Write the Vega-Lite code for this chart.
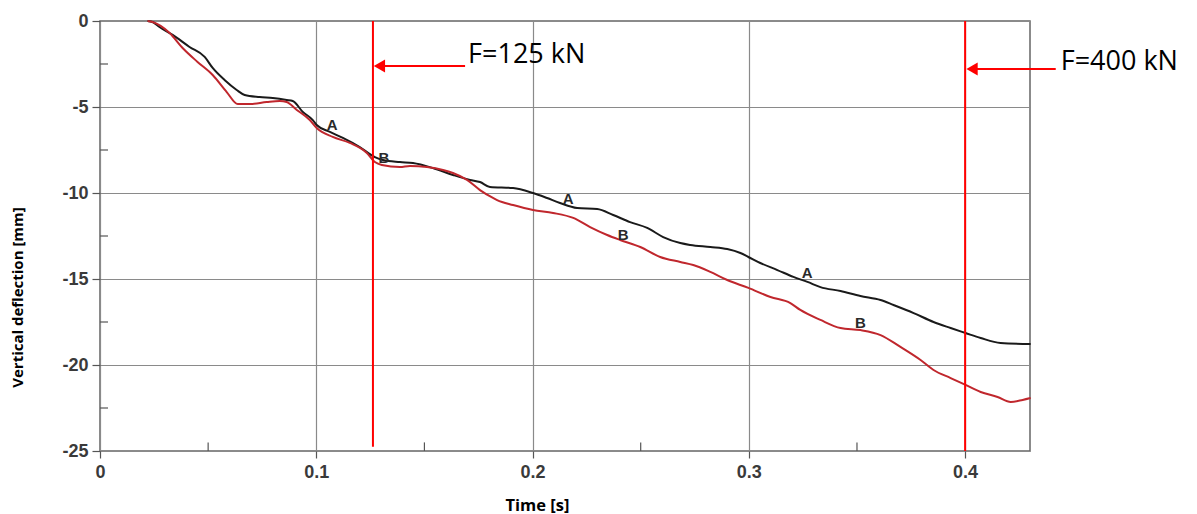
{
  "$schema": "https://vega.github.io/schema/vega-lite/v6.json",
  "width": 930,
  "height": 430,
  "autosize": {"type": "none"},
  "padding": {"left": 100, "top": 21, "right": 167, "bottom": 63},
  "background": "white",
  "config": {
    "view": {"stroke": "#666666", "strokeWidth": 1.5},
    "axis": {
      "domain": false,
      "grid": true,
      "gridColor": "#8a8a8a",
      "gridWidth": 1.2,
      "tickColor": "#555555",
      "tickWidth": 1.2,
      "labelFont": "Liberation Sans",
      "labelFontSize": 18,
      "labelFontWeight": "bold",
      "labelColor": "#3a3a3a",
      "titleFont": "Open Sans",
      "titleFontWeight": "bold",
      "titleColor": "#000000"
    }
  },
  "datasets": {
    "curves": [
      {"t": 0.0220, "d": 0, "s": "A"},
      {"t": 0.0243, "d": -0.06, "s": "A"},
      {"t": 0.0275, "d": -0.35, "s": "A"},
      {"t": 0.0336, "d": -0.81, "s": "A"},
      {"t": 0.0414, "d": -1.51, "s": "A"},
      {"t": 0.0484, "d": -2.09, "s": "A"},
      {"t": 0.0521, "d": -2.73, "s": "A"},
      {"t": 0.0576, "d": -3.43, "s": "A"},
      {"t": 0.0632, "d": -4.01, "s": "A"},
      {"t": 0.0669, "d": -4.30, "s": "A"},
      {"t": 0.0738, "d": -4.42, "s": "A"},
      {"t": 0.0799, "d": -4.48, "s": "A"},
      {"t": 0.0863, "d": -4.59, "s": "A"},
      {"t": 0.0891, "d": -4.65, "s": "A"},
      {"t": 0.0938, "d": -5.29, "s": "A"},
      {"t": 0.0984, "d": -5.76, "s": "A"},
      {"t": 0.1002, "d": -6.05, "s": "A"},
      {"t": 0.1063, "d": -6.45, "s": "A"},
      {"t": 0.1123, "d": -6.80, "s": "A"},
      {"t": 0.1201, "d": -7.33, "s": "A"},
      {"t": 0.1271, "d": -7.91, "s": "A"},
      {"t": 0.1308, "d": -8.08, "s": "A"},
      {"t": 0.1387, "d": -8.20, "s": "A"},
      {"t": 0.1447, "d": -8.26, "s": "A"},
      {"t": 0.1539, "d": -8.55, "s": "A"},
      {"t": 0.1632, "d": -8.95, "s": "A"},
      {"t": 0.1711, "d": -9.24, "s": "A"},
      {"t": 0.1757, "d": -9.36, "s": "A"},
      {"t": 0.1803, "d": -9.65, "s": "A"},
      {"t": 0.1910, "d": -9.71, "s": "A"},
      {"t": 0.2002, "d": -10.0, "s": "A"},
      {"t": 0.2067, "d": -10.29, "s": "A"},
      {"t": 0.2127, "d": -10.58, "s": "A"},
      {"t": 0.2206, "d": -10.87, "s": "A"},
      {"t": 0.2299, "d": -10.93, "s": "A"},
      {"t": 0.2373, "d": -11.28, "s": "A"},
      {"t": 0.2451, "d": -11.69, "s": "A"},
      {"t": 0.2530, "d": -12.03, "s": "A"},
      {"t": 0.2604, "d": -12.56, "s": "A"},
      {"t": 0.2683, "d": -12.91, "s": "A"},
      {"t": 0.2729, "d": -13.02, "s": "A"},
      {"t": 0.2822, "d": -13.14, "s": "A"},
      {"t": 0.2900, "d": -13.26, "s": "A"},
      {"t": 0.2961, "d": -13.49, "s": "A"},
      {"t": 0.2998, "d": -13.72, "s": "A"},
      {"t": 0.3053, "d": -14.07, "s": "A"},
      {"t": 0.3132, "d": -14.48, "s": "A"},
      {"t": 0.3206, "d": -14.88, "s": "A"},
      {"t": 0.3271, "d": -15.17, "s": "A"},
      {"t": 0.3331, "d": -15.47, "s": "A"},
      {"t": 0.3424, "d": -15.70, "s": "A"},
      {"t": 0.3516, "d": -15.99, "s": "A"},
      {"t": 0.3609, "d": -16.22, "s": "A"},
      {"t": 0.3669, "d": -16.51, "s": "A"},
      {"t": 0.3762, "d": -16.98, "s": "A"},
      {"t": 0.3854, "d": -17.50, "s": "A"},
      {"t": 0.3933, "d": -17.85, "s": "A"},
      {"t": 0.4002, "d": -18.14, "s": "A"},
      {"t": 0.4072, "d": -18.43, "s": "A"},
      {"t": 0.4164, "d": -18.72, "s": "A"},
      {"t": 0.4303, "d": -18.78, "s": "A"},
      {"t": 0.0220, "d": 0, "s": "B"},
      {"t": 0.0243, "d": -0.06, "s": "B"},
      {"t": 0.0322, "d": -0.70, "s": "B"},
      {"t": 0.0382, "d": -1.57, "s": "B"},
      {"t": 0.0451, "d": -2.38, "s": "B"},
      {"t": 0.0521, "d": -3.14, "s": "B"},
      {"t": 0.0586, "d": -4.13, "s": "B"},
      {"t": 0.0637, "d": -4.83, "s": "B"},
      {"t": 0.0692, "d": -4.83, "s": "B"},
      {"t": 0.0771, "d": -4.71, "s": "B"},
      {"t": 0.0831, "d": -4.65, "s": "B"},
      {"t": 0.0863, "d": -4.71, "s": "B"},
      {"t": 0.0910, "d": -5.17, "s": "B"},
      {"t": 0.0970, "d": -5.76, "s": "B"},
      {"t": 0.1002, "d": -6.22, "s": "B"},
      {"t": 0.1076, "d": -6.74, "s": "B"},
      {"t": 0.1155, "d": -7.09, "s": "B"},
      {"t": 0.1234, "d": -7.67, "s": "B"},
      {"t": 0.1271, "d": -8.20, "s": "B"},
      {"t": 0.1303, "d": -8.37, "s": "B"},
      {"t": 0.1387, "d": -8.49, "s": "B"},
      {"t": 0.1433, "d": -8.43, "s": "B"},
      {"t": 0.1512, "d": -8.49, "s": "B"},
      {"t": 0.1586, "d": -8.66, "s": "B"},
      {"t": 0.1632, "d": -8.84, "s": "B"},
      {"t": 0.1697, "d": -9.24, "s": "B"},
      {"t": 0.1757, "d": -9.83, "s": "B"},
      {"t": 0.1817, "d": -10.29, "s": "B"},
      {"t": 0.1836, "d": -10.41, "s": "B"},
      {"t": 0.1910, "d": -10.70, "s": "B"},
      {"t": 0.2002, "d": -10.99, "s": "B"},
      {"t": 0.2095, "d": -11.16, "s": "B"},
      {"t": 0.2188, "d": -11.45, "s": "B"},
      {"t": 0.2266, "d": -11.98, "s": "B"},
      {"t": 0.2345, "d": -12.44, "s": "B"},
      {"t": 0.2405, "d": -12.73, "s": "B"},
      {"t": 0.2498, "d": -13.14, "s": "B"},
      {"t": 0.2590, "d": -13.72, "s": "B"},
      {"t": 0.2683, "d": -14.01, "s": "B"},
      {"t": 0.2743, "d": -14.19, "s": "B"},
      {"t": 0.2822, "d": -14.59, "s": "B"},
      {"t": 0.2900, "d": -15.06, "s": "B"},
      {"t": 0.2998, "d": -15.52, "s": "B"},
      {"t": 0.3100, "d": -16.05, "s": "B"},
      {"t": 0.3192, "d": -16.40, "s": "B"},
      {"t": 0.3238, "d": -16.80, "s": "B"},
      {"t": 0.3331, "d": -17.38, "s": "B"},
      {"t": 0.3424, "d": -17.85, "s": "B"},
      {"t": 0.3516, "d": -17.97, "s": "B"},
      {"t": 0.3609, "d": -18.26, "s": "B"},
      {"t": 0.3701, "d": -18.95, "s": "B"},
      {"t": 0.3794, "d": -19.71, "s": "B"},
      {"t": 0.3854, "d": -20.29, "s": "B"},
      {"t": 0.3933, "d": -20.76, "s": "B"},
      {"t": 0.4002, "d": -21.16, "s": "B"},
      {"t": 0.4072, "d": -21.57, "s": "B"},
      {"t": 0.4150, "d": -21.86, "s": "B"},
      {"t": 0.4211, "d": -22.15, "s": "B"},
      {"t": 0.4266, "d": -22.03, "s": "B"},
      {"t": 0.4303, "d": -21.92, "s": "B"}
    ],
    "vlines": [
      {"t": 0.1262, "d": 0, "d2": -24.75},
      {"t": 0.4, "d": 0, "d2": -25}
    ],
    "arrows": [
      {"t": 0.1285, "t2": 0.1688, "d": -2.62, "lab": "F=125 kN", "tl": 0.1702, "dl": -1.98},
      {"t": 0.4025, "t2": 0.4419, "d": -2.79, "lab": "F=400 kN", "tl": 0.4442, "dl": -2.38}
    ],
    "heads": [
      {"t": 0.1292, "d": -2.62},
      {"t": 0.4032, "d": -2.79}
    ],
    "curveLabels": [
      {"t": 0.1073, "d": -6.05, "lab": "A"},
      {"t": 0.1313, "d": -7.97, "lab": "B"},
      {"t": 0.2165, "d": -10.35, "lab": "A"},
      {"t": 0.2419, "d": -12.44, "lab": "B"},
      {"t": 0.3270, "d": -14.65, "lab": "A"},
      {"t": 0.3516, "d": -17.56, "lab": "B"}
    ],
    "minorX": [
      {"t": 0.05, "d": -25, "d2": -24.5},
      {"t": 0.15, "d": -25, "d2": -24.5},
      {"t": 0.25, "d": -25, "d2": -24.5},
      {"t": 0.35, "d": -25, "d2": -24.5}
    ],
    "minorY": [
      {"t": 0, "t2": 0.0037, "d": -2.5},
      {"t": 0, "t2": 0.0037, "d": -7.5},
      {"t": 0, "t2": 0.0037, "d": -12.5},
      {"t": 0, "t2": 0.0037, "d": -17.5},
      {"t": 0, "t2": 0.0037, "d": -22.5}
    ]
  },
  "layer": [
    {
      "data": {"name": "minorX"},
      "mark": {"type": "rule", "color": "#555555", "strokeWidth": 1.2},
      "encoding": {
        "x": {
          "field": "t", "type": "quantitative",
          "scale": {"domain": [0, 0.43], "nice": false, "zero": false},
          "axis": {
            "values": [0, 0.1, 0.2, 0.3, 0.4],
            "labelExpr": "datum.value + ''",
            "labelFlush": false,
            "labelFontSize": 18,
            "tickSize": 7,
            "labelPadding": 5,
            "title": "Time [s]",
            "titleFontSize": 16.5,
            "titleX": 437,
            "titleY": 54,
            "titleBaseline": "middle"
          }
        },
        "y": {
          "field": "d", "type": "quantitative",
          "scale": {"domain": [-25, 0], "nice": false, "zero": false},
          "axis": {
            "values": [0, -5, -10, -15, -20, -25],
            "labelExpr": "datum.value + ''",
            "labelFontSize": 18,
            "tickSize": 8,
            "labelPadding": 4,
            "title": "Vertical deflection [mm]",
            "titleFontSize": 15,
            "titleX": -83,
            "titleY": 276,
            "titleBaseline": "middle"
          }
        },
        "y2": {"field": "d2"}
      }
    },
    {
      "data": {"name": "minorY"},
      "mark": {"type": "rule", "color": "#555555", "strokeWidth": 1.2},
      "encoding": {
        "x": {"field": "t", "type": "quantitative"},
        "x2": {"field": "t2"},
        "y": {"field": "d", "type": "quantitative"}
      }
    },
    {
      "data": {"name": "curves"},
      "mark": {"type": "line", "strokeWidth": 2, "interpolate": "monotone"},
      "encoding": {
        "x": {"field": "t", "type": "quantitative"},
        "y": {"field": "d", "type": "quantitative"},
        "color": {
          "field": "s", "type": "nominal",
          "scale": {"domain": ["A", "B"], "range": ["#1a1a1a", "#c0272d"]},
          "legend": null
        }
      }
    },
    {
      "data": {"name": "curveLabels"},
      "mark": {"type": "text", "font": "Liberation Sans", "fontWeight": "bold", "fontSize": 15, "color": "#2a2a2a", "align": "center", "baseline": "middle"},
      "encoding": {
        "x": {"field": "t", "type": "quantitative"},
        "y": {"field": "d", "type": "quantitative"},
        "text": {"field": "lab"}
      }
    },
    {
      "data": {"name": "vlines"},
      "mark": {"type": "rule", "color": "#ff0000", "strokeWidth": 2},
      "encoding": {
        "x": {"field": "t", "type": "quantitative"},
        "y": {"field": "d", "type": "quantitative"},
        "y2": {"field": "d2"}
      }
    },
    {
      "data": {"name": "arrows"},
      "mark": {"type": "rule", "color": "#ff0000", "strokeWidth": 2, "clip": false},
      "encoding": {
        "x": {"field": "t", "type": "quantitative"},
        "x2": {"field": "t2"},
        "y": {"field": "d", "type": "quantitative"}
      }
    },
    {
      "data": {"name": "heads"},
      "mark": {"type": "point", "shape": "triangle-left", "filled": true, "color": "#ff0000", "size": 170, "opacity": 1},
      "encoding": {
        "x": {"field": "t", "type": "quantitative"},
        "y": {"field": "d", "type": "quantitative"}
      }
    },
    {
      "data": {"name": "arrows"},
      "mark": {"type": "text", "font": "Open Sans", "fontSize": 27, "color": "#000000", "align": "left", "baseline": "middle", "clip": false},
      "encoding": {
        "x": {"field": "tl", "type": "quantitative"},
        "y": {"field": "dl", "type": "quantitative"},
        "text": {"field": "lab"}
      }
    }
  ]
}
